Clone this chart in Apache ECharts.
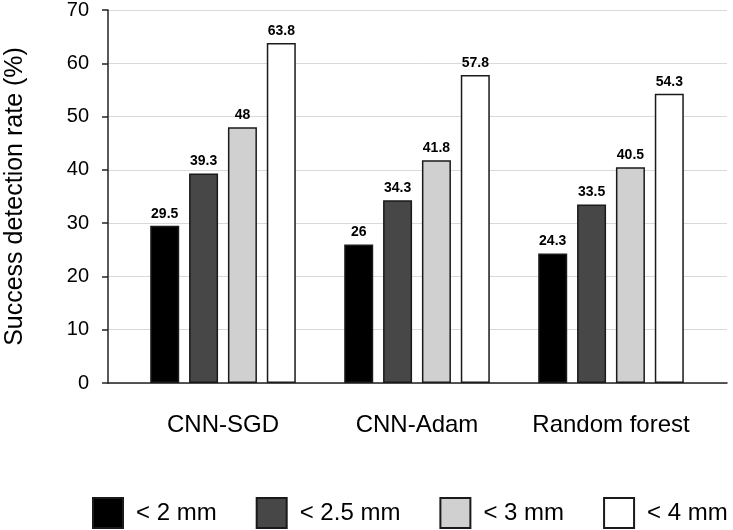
<!DOCTYPE html>
<html>
<head>
<meta charset="utf-8">
<script src="https://cdn.jsdelivr.net/npm/echarts@6/dist/echarts.min.js"></script>
<style>html,body{margin:0;padding:0;background:#fff}#c{width:733px;height:530px}</style>
</head>
<body>
<div id="c"></div>
<script>
const categories = ['CNN-SGD', 'CNN-Adam', 'Random forest'];
const seriesNames = ['< 2 mm', '< 2.5 mm', '< 3 mm', '< 4 mm'];
const lt2 = [29.5, 26, 24.3];
const lt25 = [39.3, 34.3, 33.5];
const lt3 = [48, 41.8, 40.5];
const lt4 = [63.8, 57.8, 54.3];
const yTicks = [0, 10, 20, 30, 40, 50, 60, 70];

const colors = ['#000000', '#474747', '#d0d0d0', '#ffffff'];
const values = [lt2, lt25, lt3, lt4];
const FONT = 'Liberation Sans, Arial, sans-serif';

const chart = echarts.init(document.getElementById('c'), null, {renderer: 'canvas'});
chart.setOption({
  animation: false,
  backgroundColor: '#fff',
  textStyle: {fontFamily: FONT, color: '#000'},
  grid: [
    {left: 108, right: 6, top: 10, bottom: 147, containLabel: false, outerBoundsMode: 'none'},
    {left: 126, right: 25, top: 10, bottom: 147, containLabel: false, outerBoundsMode: 'none'}
  ],
  xAxis: [
    {gridIndex: 0, type: 'value', min: 0, max: 1, axisLine: {show: true, onZero: false, lineStyle: {color: '#222', width: 1.5}},
     axisTick: {show: false}, axisLabel: {show: false}, splitLine: {show: false}},
    {gridIndex: 1, type: 'category', data: categories, axisLine: {show: false}, axisTick: {show: false},
     axisLabel: {fontSize: 24, color: '#000', margin: 30, interval: 0, fontFamily: FONT}}
  ],
  yAxis: [
    {gridIndex: 0, type: 'value', min: yTicks[0], max: yTicks[yTicks.length - 1], interval: 10,
     name: 'Success detection rate (%)', nameLocation: 'middle', nameGap: 80,
     nameTextStyle: {fontSize: 25, color: '#000', fontFamily: FONT},
     axisLine: {show: true, lineStyle: {color: '#222', width: 1.5}},
     axisTick: {show: true, length: 6, lineStyle: {color: '#222', width: 1.5}},
     axisLabel: {fontSize: 20, color: '#000', margin: 19, fontFamily: FONT},
     splitLine: {show: true, lineStyle: {color: '#d9d9d9', width: 1}}},
    {gridIndex: 1, type: 'value', min: 0, max: 70, interval: 10, show: false, splitLine: {show: false}}
  ],
  legend: {
    left: 92, top: 497, width: 641, padding: 0, itemWidth: 30, itemHeight: 30, itemGap: 39,
    icon: 'rect',
    data: seriesNames,
    textStyle: {fontSize: 24, color: '#000', fontFamily: FONT, padding: [0, 0, 0, 8]}
  },
  series: seriesNames.map((n, i) => ({
    name: n, type: 'bar', xAxisIndex: 1, yAxisIndex: 1,
    data: values[i], barWidth: 29, barGap: '34%',
    itemStyle: {color: colors[i], borderColor: '#1a1a1a', borderWidth: 1.5},
    label: {show: true, position: 'top', distance: 5, fontSize: 14, fontWeight: 'bold', color: '#000', fontFamily: FONT}
  }))
});
</script>
</body>
</html>
